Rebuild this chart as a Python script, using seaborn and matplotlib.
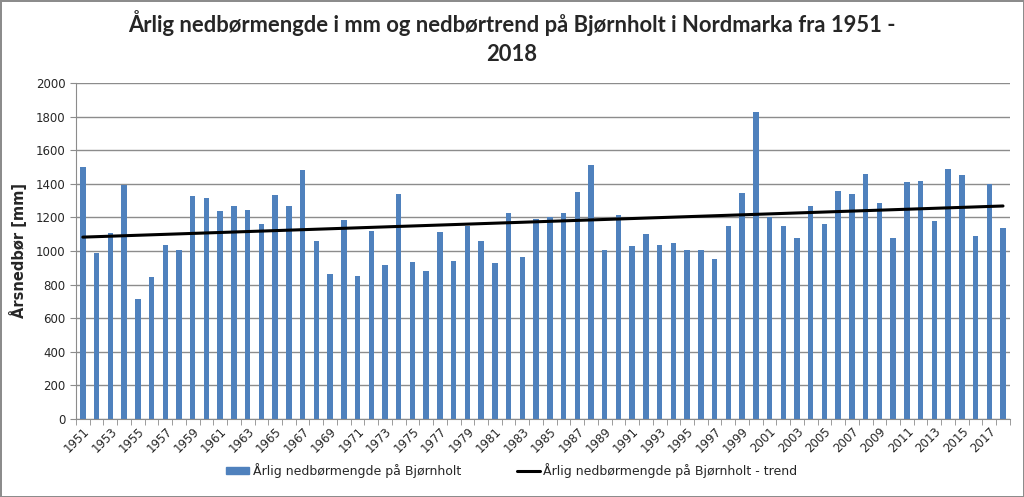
import numpy as np
import pandas as pd
import matplotlib.pyplot as plt
import seaborn as sns
from matplotlib.patches import Patch
from matplotlib.lines import Line2D

sns.set_style('white')
plt.rcParams['font.family'] = ['DejaVu Sans']

# årlig nedbør på Bjørnholt (mm), lest av figuren
år = list(range(1951, 2019))
nedbør = [
    1500, 990, 1105, 1390, 714, 844, 1035, 1005, 1330, 1318,
    1236, 1270, 1246, 1160, 1336, 1266, 1484, 1058, 864, 1182,
    852, 1118, 918, 1342, 934, 882, 1112, 940, 1146, 1058,
    930, 1228, 964, 1192, 1202, 1224, 1354, 1512, 1004, 1214,
    1030, 1100, 1036, 1048, 1004, 1004, 952, 1148, 1348, 1830,
    1204, 1148, 1076, 1270, 1160, 1360, 1342, 1458, 1288, 1076,
    1408, 1418, 1176, 1490, 1454, 1090, 1400, 1136,
]
serie_navn = 'Årlig nedbørmengde på Bjørnholt'
trend_navn = 'Årlig nedbørmengde på Bjørnholt - trend'
tittel = 'Årlig nedbørmengde i mm og nedbørtrend på Bjørnholt i Nordmarka fra 1951 -\n2018'
ylabel = 'Årsnedbør [mm]'

df = pd.DataFrame({'År': [str(a) for a in år], 'Nedbør': nedbør})
# lineær trend (minste kvadraters metode)
k, m = np.polyfit(år, nedbør, 1)
df['Trend'] = k * np.array(år) + m

fig = plt.figure(figsize=(10.24, 4.97), dpi=100, edgecolor='#8c8c8c', linewidth=2)
ax = fig.add_axes([0.0742, 0.157, 0.912, 0.676])

sns.barplot(data=df, x='År', y='Nedbør', color='#4F81BD', width=0.4,
            saturation=1, ax=ax, legend=False, linewidth=0)
ax.plot(np.arange(len(df)), df['Trend'], color='black', linewidth=2.2)

ax.set_ylim(0, 2000)
ax.set_xlim(-0.5, len(df) - 0.5)
ax.set_yticks(np.arange(0, 2001, 200))
ax.tick_params(axis='y', labelsize=8.5, length=4, color='#8c8c8c', left=True)
ax.yaxis.grid(True, color='#8c8c8c', linewidth=1)
ax.set_axisbelow(True)

pos = np.arange(len(df))
ax.set_xticks(pos[::2])
ax.set_xticklabels(df['År'][::2], rotation=45, ha='right', rotation_mode='anchor', fontsize=8.5)
ax.tick_params(axis='x', which='major', length=0, pad=4)
ax.set_xticks(np.arange(-0.5, len(df), 1), minor=True)
ax.tick_params(axis='x', which='minor', length=4, color='#8c8c8c', bottom=True)

for side in ['top', 'right']:
    ax.spines[side].set_visible(False)
for side in ['left', 'bottom']:
    ax.spines[side].set_color('#8c8c8c')

ax.set_xlabel('')
ax.set_ylabel(ylabel, fontsize=10.5, fontweight='bold', labelpad=6)

fig.suptitle(tittel, fontsize=15.8, fontweight='bold', y=0.98, linespacing=1.45,
             family=['Lato', 'DejaVu Sans'])

handles = [Patch(color='#4F81BD', label=serie_navn),
           Line2D([], [], color='black', linewidth=2.2, label=trend_navn)]
fig.legend(handles=handles, loc='lower center', bbox_to_anchor=(0.5, 0.015), ncol=2,
           frameon=False, fontsize=9, handlelength=1.8, handleheight=0.5,
           columnspacing=4.5, handletextpad=0.3)

fig.savefig('out.png', dpi=100, edgecolor=fig.get_edgecolor())
